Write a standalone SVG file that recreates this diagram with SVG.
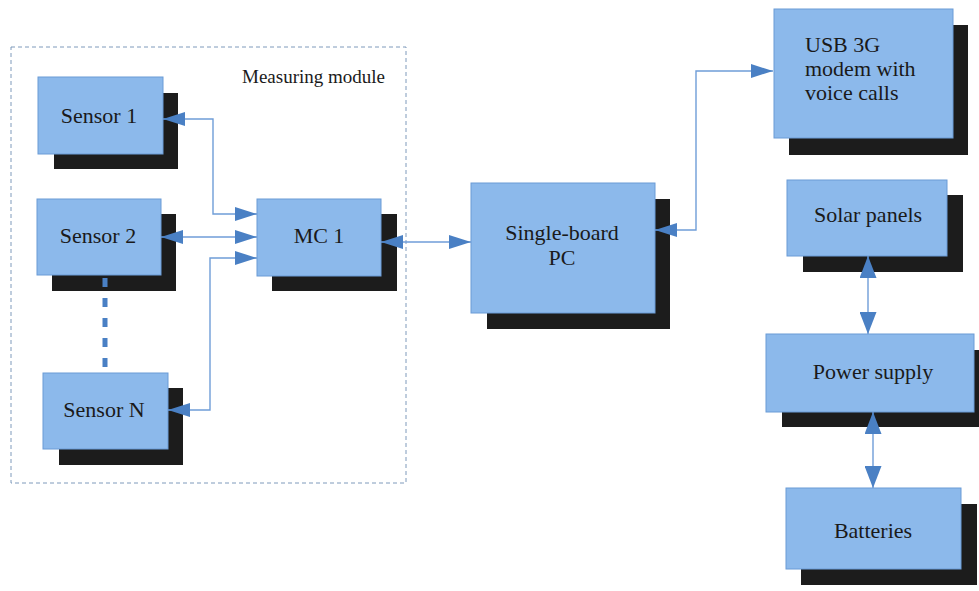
<svg xmlns="http://www.w3.org/2000/svg" width="979" height="591" viewBox="0 0 979 591">
<style>
.box{fill:#8cb9eb;stroke:#6b9bd6;stroke-width:1}
.shadow{fill:#1c1c1c}
text{font-family:'Liberation Serif',serif;fill:#1a1a1a}
.lbl{font-size:22px}
.mid{text-anchor:middle}
.conn{fill:none;stroke:#6f9dd8;stroke-width:1.4}
.frame{fill:none;stroke:#7f9abb;stroke-width:1;stroke-dasharray:4 3}
</style>
<defs>
<marker id="ah" markerUnits="userSpaceOnUse" markerWidth="22" markerHeight="14" refX="22" refY="7" orient="auto-start-reverse" viewBox="0 0 22 14">
<path d="M0,0 L22,7 L0,14 z" fill="#4a80c4"/>
</marker>
<marker id="ahb" markerUnits="userSpaceOnUse" markerWidth="22" markerHeight="17" refX="22" refY="8.5" orient="auto-start-reverse" viewBox="0 0 22 17">
<path d="M0,0 L22,8.5 L0,17 z" fill="#4a80c4"/>
</marker>
</defs>
<rect width="979" height="591" fill="#ffffff"/>

<g id="measuring-module">
<rect class="frame" x="11" y="47" width="395" height="436"/>
<text x="242" y="83" font-size="19">Measuring module</text>
</g>

<g id="sensor-1">
<rect class="shadow" x="54" y="93" width="124" height="76"/>
<rect class="box" x="38" y="77" width="125" height="77"/>
<text class="lbl mid" x="99" y="123">Sensor 1</text>
</g>
<g id="sensor-2">
<rect class="shadow" x="52" y="214" width="124" height="77"/>
<rect class="box" x="37" y="199" width="124" height="76"/>
<text class="lbl mid" x="98" y="243">Sensor 2</text>
</g>
<g id="sensor-n">
<rect class="shadow" x="59" y="388" width="124" height="77"/>
<rect class="box" x="43" y="373" width="125" height="76"/>
<text class="lbl mid" x="104" y="417">Sensor N</text>
</g>
<g id="mc-1">
<rect class="shadow" x="272" y="214" width="125" height="77"/>
<rect class="box" x="257" y="199" width="124" height="77"/>
<text class="lbl mid" x="319" y="243">MC 1</text>
</g>
<g id="single-board-pc">
<rect class="shadow" x="487" y="199" width="183" height="130"/>
<rect class="box" x="471" y="183" width="184" height="130"/>
<text class="lbl mid" x="562" y="240">Single-board</text>
<text class="lbl mid" x="562" y="265">PC</text>
</g>
<g id="usb-modem">
<rect class="shadow" x="789" y="25" width="179" height="130"/>
<rect class="box" x="774" y="9" width="179" height="129"/>
<text class="lbl" x="805" y="52">USB 3G</text>
<text class="lbl" x="805" y="76">modem with</text>
<text class="lbl" x="805" y="100">voice calls</text>
</g>
<g id="solar-panels">
<rect class="shadow" x="803" y="195" width="160" height="77"/>
<rect class="box" x="787" y="180" width="160" height="76"/>
<text class="lbl mid" x="868" y="222">Solar panels</text>
</g>
<g id="power-supply">
<rect class="shadow" x="782" y="350" width="200" height="77"/>
<rect class="box" x="766" y="334" width="208" height="78"/>
<text class="lbl mid" x="873" y="379">Power supply</text>
</g>
<g id="batteries">
<rect class="shadow" x="801" y="504" width="176" height="81"/>
<rect class="box" x="786" y="488" width="175" height="81"/>
<text class="lbl mid" x="873" y="538">Batteries</text>
</g>

<g id="connectors">
<polyline class="conn" points="163,119 213,119 213,214 257,214" marker-start="url(#ah)" marker-end="url(#ah)"/>
<line class="conn" x1="161" y1="237" x2="257" y2="237" marker-start="url(#ah)" marker-end="url(#ah)"/>
<polyline class="conn" points="257,258 210,258 210,410 168,410" marker-start="url(#ah)" marker-end="url(#ah)"/>
<line x1="105" y1="278" x2="105" y2="370" stroke="#4a80c4" stroke-width="5" stroke-dasharray="9 11"/>
<line class="conn" x1="381" y1="242" x2="471" y2="242" marker-start="url(#ah)" marker-end="url(#ah)"/>
<polyline class="conn" points="655,230 696,230 696,71 773,71" marker-start="url(#ah)" marker-end="url(#ah)"/>
<line class="conn" x1="868" y1="256" x2="868" y2="334" marker-start="url(#ahb)" marker-end="url(#ahb)"/>
<line class="conn" x1="873" y1="412" x2="873" y2="488" marker-start="url(#ahb)" marker-end="url(#ahb)"/>
</g>
</svg>
